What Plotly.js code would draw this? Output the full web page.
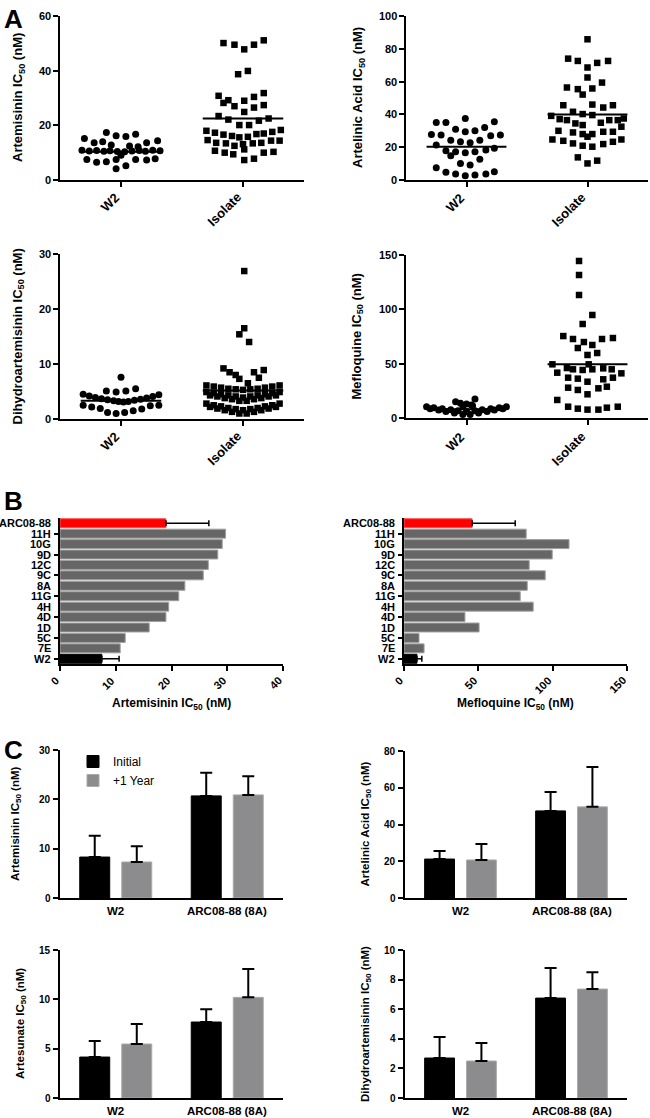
<!DOCTYPE html>
<html>
<head>
<meta charset="utf-8">
<script src="https://cdn.plot.ly/plotly-3.0.1.min.js"></script>
<style>
	body{margin:0;background:#fff;}
	#fig{width:650px;height:1118px;}
</style>
</head>
<body>
<div id="fig"></div>
<script>
// ---- panel A : scatter of IC50 values, W2 vs field isolates ----
var groups = ['W2', 'Isolate'];

var artW2 = [17.4,16.2,15.9,16.7,15.2,14.4,13.6,14.0,13.6,12.2,12.8,12.4,
	10.9,10.6,10.8,10.5,10.7,10.4,10.3,10.6,10.8,10.5,10.9,10.7,
	9.1, 7.5,6.5,6.7,7.5,7.5,7.3,7.8, 5.2,4.1];
var artW2Off = [-0.12,-0.04,0.04,0.12,-0.30,0.30,-0.22,-0.15,0.21,0.14,-0.08,0.07,
	-0.32,-0.26,-0.20,-0.14,-0.09,-0.03,0.03,0.09,0.15,0.20,0.26,0.32,
	0.0, -0.28,-0.20,-0.12,-0.04,0.12,0.21,0.28, 0.04,-0.04];
var artIso = [50.1,49.5,47.8,49.5,51.1, 38.7,39.9, 30.8,29.2,31.8,30.4,
	28.2,27.0,29.0,24.9,26.5,27.4, 23.4,22.1,22.5,21.7, 20.1,20.1,
	18.0,17.3,16.6,16.1,15.6,15.8,16.8,17.0,17.6,18.3,
	14.6,13.6,13.4,12.5,13.1,13.4,13.6,14.4,14.4,
	10.7,10.0,9.4,11.2,10.0,10.3, 7.3,7.8];
var artIsoOff = [-0.16,-0.07,0.01,0.09,0.17, -0.04,0.04, -0.20,-0.12,0.17,0.09,
	-0.16,-0.07,0.01,0.01,0.09,0.17, -0.20,-0.12,0.21,0.13, -0.03,0.05,
	-0.30,-0.23,-0.16,-0.09,-0.03,0.04,0.11,0.17,0.24,0.31,
	-0.29,-0.22,-0.14,-0.07,0.0,0.08,0.15,0.23,0.30,
	-0.23,-0.15,-0.08,0.01,0.17,0.25, 0.01,0.09];
var artMean = [10.3, 22.5];

var alaW2 = [35.1,35.1,37.5,35.5, 31.0,29.4,30.0,32.0, 27.8,27.4,27.0,27.4,
	24.3,23.3,22.7,24.3, 21.3,19.3, 17.8,17.2,16.6,17.2,18.3, 14.8,12.6,
	10.1,9.1, 7.5, 4.7,3.7,2.6,3.0,3.7,5.1];
var alaW2Off = [-0.25,-0.17,-0.01,0.23, -0.09,-0.01,0.07,0.15, -0.29,-0.21,0.20,0.28,
	-0.13,-0.05,0.03,0.11, -0.25,0.23, -0.17,-0.09,-0.01,0.07,0.16, -0.13,0.11,
	-0.05,0.03, -0.25, -0.17,-0.09,-0.01,0.07,0.16,0.23];
var alaIso = [85.8, 74.0,72.6,71.4,72.6, 68.6, 62.5, 56.4,55.4,52.1,55.8,59.4,
	45.6,41.6,46.0,44.2,45.6,
	39.1,37.1,36.5,34.5,40.2,39.6,34.9,36.5,36.5,37.5,
	30.0,29.0,33.5,28.0,28.0,29.4,29.4,32.5, 26.4,
	24.7,23.9,22.3,20.9,20.3,21.9,23.3,24.7, 13.8,11.8,10.1];
var alaIsoOff = [0.0, -0.16,-0.08,0.08,0.17, 0.0, 0.0, -0.17,-0.08,-0.04,0.04,0.12,
	-0.20,-0.12,0.04,0.13,0.21,
	-0.30,-0.23,-0.17,-0.10,-0.04,0.04,0.11,0.18,0.25,0.30,
	-0.24,-0.12,-0.04,-0.04,0.04,0.13,0.21,0.28, 0.0,
	-0.29,-0.20,-0.12,-0.04,0.04,0.13,0.21,0.28, -0.08,0.08,0.0];
var alaMean = [20.3, 40.0];

var dhaW2 = [7.6, 5.1,4.9,5.1,5.5,
	4.5,4.2,3.9,3.7,3.5,3.3,3.2,3.1,3.2,3.4,3.6,3.8,4.1,4.4,
	2.5,2.2,1.9,1.2,1.0,1.2,1.5,1.8,2.4,2.5];
var dhaW2Off = [0.0, -0.12,-0.04,0.04,0.12,
	-0.31,-0.26,-0.21,-0.16,-0.11,-0.06,-0.02,0.02,0.06,0.11,0.16,0.21,0.26,0.31,
	-0.31,-0.24,-0.17,-0.11,-0.04,0.03,0.10,0.17,0.24,0.31];
var dhaIso = [26.9, 16.5,15.4,14.0, 9.2,8.5,8.0,7.3,6.5,8.5,7.5,8.9,
	6.1,5.9,5.7,5.5,5.4,5.3,5.4,5.5,5.7,5.9,6.1,
	4.9,4.7,4.5,4.3,4.1,3.9,4.1,4.3,4.5,4.7,4.9,
	4.3,4.1,3.8,3.6,3.3,3.3,3.6,3.8,4.1,4.3,
	2.8,2.5,2.3,2.0,1.8,1.6,1.8,2.0,2.3,2.5,2.8,
	2.2,1.9,1.6,1.3,1.0,1.0,1.3,1.6,1.9,2.2];
var dhaIsoOff = [0.01, 0.01,-0.03,0.05, -0.16,-0.11,-0.06,-0.03,0.04,0.09,0.13,0.17,
	-0.30,-0.24,-0.18,-0.12,-0.06,0.0,0.06,0.12,0.18,0.24,0.30,
	-0.30,-0.24,-0.18,-0.12,-0.06,0.0,0.06,0.12,0.18,0.24,0.30,
	-0.27,-0.21,-0.15,-0.09,-0.03,0.03,0.09,0.15,0.21,0.27,
	-0.30,-0.24,-0.18,-0.12,-0.06,0.0,0.06,0.12,0.18,0.24,0.30,
	-0.27,-0.21,-0.15,-0.09,-0.03,0.03,0.09,0.15,0.21,0.27];
var dhaMean = [3.3, 5.2];

var mefW2 = [17.5,15.0,12.9,13.5,12.0,11.0,11.3,
	10.4,9.5,8.6,7.6,6.6,6.0,6.6,7.6,8.6,9.5,10.4,
	8.6,7.4,6.0,4.6,3.3,3.3,4.6,6.0,7.4,8.6];
var mefW2Off = [0.07,-0.09,0.0,-0.05,0.04,-0.03,0.05,
	-0.33,-0.27,-0.20,-0.13,-0.07,0.0,0.07,0.13,0.20,0.27,0.33,
	-0.30,-0.23,-0.17,-0.10,-0.03,0.03,0.10,0.17,0.23,0.30];
var mefIso = [144.5,131.6,113.2,94.8,86.5, 75.4,72.7,69.9,67.2,72.7,73.6,64.4,58.0,59.8,
	49.4,41.7,46.0,44.8,44.2,44.8,49.4,45.7,44.8,41.1,
	37.1,36.2,33.4,35.6,37.1,
	27.9,25.8,21.8,27.3,28.8,
	16.6, 10.4,8.6,7.7,7.7,9.5,10.4];
var mefIsoOff = [-0.07,-0.07,-0.07,0.04,-0.04, -0.20,-0.12,-0.03,0.04,0.12,0.21,-0.08,0.0,0.08,
	-0.29,-0.25,-0.17,-0.12,-0.04,0.04,0.01,0.13,0.20,0.28,
	-0.16,-0.08,0.0,0.13,0.21,
	-0.16,-0.08,0.0,0.09,0.16,
	-0.25, -0.16,-0.08,0.0,0.09,0.16,0.25];
var mefMean = [8.0, 49.5];

// ---- panel B : clones ----
var clones = ['ARC08-88','11H','10G','9D','12C','9C','8A','11G','4H','4D','1D','5C','7E','W2'];
var cloneArt = [19.0,29.7,29.1,28.3,26.6,25.7,22.4,21.3,19.5,19.0,16.0,11.7,10.8,7.5];
var cloneArtErr = [7.7, 3.1];   // ARC08-88, W2
var cloneMef = [45.8,82.2,111,99.7,84.2,95,82.9,78.2,86.9,41,50.5,10.1,13.5,8.7];
var cloneMefErr = [29.0, 3.3];
var artTicks = [0, 10, 20, 30, 40];
var mefTicks = [0, 50, 100, 150];

// ---- panel C : initial vs +1 year ----
var strains = ['W2', 'ARC08-88 (8A)'];
var cArtInit = [8.3, 20.7], cArtInitErr = [4.3, 4.7];
var cArtYear = [7.3, 20.9], cArtYearErr = [3.2, 3.8];
var cAlaInit = [21.2, 47.4], cAlaInitErr = [4.4, 10.3];
var cAlaYear = [20.7, 49.6], cAlaYearErr = [8.7, 21.7];
var cAtsInit = [4.15, 7.7], cAtsInitErr = [1.63, 1.3];
var cAtsYear = [5.47, 10.2], cAtsYearErr = [2.03, 2.87];
var cDhaInit = [2.7, 6.75], cDhaInitErr = [1.43, 2.03];
var cDhaYear = [2.5, 7.36], cDhaYearErr = [1.22, 1.14];

// y tick values of every panel, in subplot order 1..10 (5 and 6 are the clone lists)
var yTicks = [[0,20,40,60], [0,20,40,60,80,100], [0,10,20,30], [0,50,100,150], null, null,
	[0,10,20,30], [0,20,40,60,80], [0,5,10,15], [0,2,4,6,8,10]];
var yTitles = ['Artemisinin', 'Artelinic Acid', 'Dihydroartemisinin', 'Mefloquine', null, null,
	'Artemisinin', 'Artelinic Acid', 'Artesunate', 'Dihydroartemisinin'];

var font = 'Liberation Sans, Arial, Helvetica, sans-serif';
var grayB = 'rgb(102,102,102)';
var grayC = 'rgb(140,140,143)';

function px(a, b){ return [a/650, b/650]; }
function py(top, bot){ return [1 - bot/1118, 1 - top/1118]; }
function xid(n){ return n == 1 ? 'x' : 'x' + n; }
function yid(n){ return n == 1 ? 'y' : 'y' + n; }
function bfont(size){ return {family: font, size: size, color: 'black', weight: 'bold'}; }
function label(t, size, extra){
	var a = {text: '<b>' + t + '</b>', showarrow: false, font: bfont(size)};
	for(var k in extra) a[k] = extra[k];
	return a;
}

function baseAxis(extra){
	var ax = {
		showline: true, linecolor: 'black', linewidth: 2,
		ticks: 'outside', ticklen: 5, tickwidth: 2, tickcolor: 'black',
		showgrid: false, zeroline: false, fixedrange: true, showticklabels: false
	};
	for(var k in extra) ax[k] = extra[k];
	return ax;
}

// tick labels turned 45 degrees under an x axis whose line sits at axisPy
function slantLabels(n, vals, texts, axisPy, size){
	return vals.map(function(v, i){
		return label(texts[i], size, {xref: xid(n), x: v, yref: 'paper', y: 1 - (axisPy + 7)/1118,
			textangle: -45, xanchor: 'right', yanchor: 'top', xshift: 4});
	});
}

function leftLabels(n, vals, texts, size){
	return vals.map(function(v, i){
		return label(texts[i], size, {xref: xid(n) + ' domain', x: 0, xanchor: 'right', xshift: -7,
			yref: yid(n), y: v, yanchor: 'middle'});
	});
}

function underLabels(n, vals, texts, size){
	return vals.map(function(v, i){
		return label(texts[i], size, {xref: xid(n), x: v, yref: yid(n) + ' domain', y: 0,
			xanchor: 'center', yanchor: 'top', yshift: -5});
	});
}

function sideTitle(t, xPx, topPx, botPx, size){
	return label(t + ' IC<sub>50</sub> (nM)', size, {xref: 'paper', x: xPx/650, yref: 'paper',
		y: 1 - (topPx + botPx)/2/1118, textangle: -90, xanchor: 'center', yanchor: 'middle'});
}

function swarm(vals, offs, grp, sym, n){
	return {
		x: vals.map(function(v, k){ return grp + offs[k]; }),
		y: vals,
		mode: 'markers', type: 'scatter',
		marker: {symbol: sym, size: sym == 'circle' ? 7 : 6.5, color: 'black'},
		xaxis: xid(n), yaxis: yid(n),
		cliponaxis: false, showlegend: false, hoverinfo: 'y'
	};
}

function meanLine(m, grp, n){
	return {
		x: [grp - 0.33, grp + 0.33], y: [m, m],
		mode: 'lines', type: 'scatter',
		line: {color: 'black', width: 2},
		xaxis: xid(n), yaxis: yid(n),
		showlegend: false, hoverinfo: 'skip'
	};
}

function cloneBars(vals, errs, n){
	var errBar = function(e){
		return {type: 'data', symmetric: false, array: [e], arrayminus: [0], color: 'black', thickness: 1.5, width: 3};
	};
	var common = {type: 'bar', orientation: 'h', width: 0.86, xaxis: xid(n), yaxis: yid(n), showlegend: false};
	var red = Object.assign({}, common, {
		y: clones.slice(0, 1), x: vals.slice(0, 1),
		marker: {color: 'rgb(255,0,0)', line: {color: 'rgb(255,80,80)', width: 1}},
		error_x: errBar(errs[0])
	});
	var gray = Object.assign({}, common, {
		y: clones.slice(1, 13), x: vals.slice(1, 13),
		marker: {color: grayB, line: {color: 'rgb(160,160,160)', width: 1}}
	});
	var black = Object.assign({}, common, {
		y: clones.slice(13), x: vals.slice(13),
		marker: {color: 'black', line: {color: 'black', width: 1}},
		error_x: errBar(errs[1])
	});
	return [red, gray, black];
}

function yearBars(init, initErr, year, yearErr, n, legend){
	var errBar = function(e){
		return {type: 'data', symmetric: false, array: e, arrayminus: [0, 0], color: 'black', thickness: 2, width: 6};
	};
	return [{
		type: 'bar', name: 'Initial', x: [0, 1], y: init,
		offset: -0.323, width: 0.269,
		marker: {color: 'black', line: {color: 'black', width: 1}},
		error_y: errBar(initErr),
		xaxis: xid(n), yaxis: yid(n), showlegend: legend
	}, {
		type: 'bar', name: '+1 Year', x: [0, 1], y: year,
		offset: 0.054, width: 0.269,
		marker: {color: grayC, line: {color: 'rgb(170,170,172)', width: 1}},
		error_y: errBar(yearErr),
		xaxis: xid(n), yaxis: yid(n), showlegend: legend
	}];
}

function main(){
	var data = [];
	var sets = [
		[artW2, artW2Off, artIso, artIsoOff, artMean],
		[alaW2, alaW2Off, alaIso, alaIsoOff, alaMean],
		[dhaW2, dhaW2Off, dhaIso, dhaIsoOff, dhaMean],
		[mefW2, mefW2Off, mefIso, mefIsoOff, mefMean]
	];
	sets.forEach(function(s, i){
		var n = i + 1;
		data.push(swarm(s[0], s[1], 0, 'circle', n));
		data.push(swarm(s[2], s[3], 1, 'square', n));
		data.push(meanLine(s[4][0], 0, n));
		data.push(meanLine(s[4][1], 1, n));
	});
	data = data.concat(cloneBars(cloneArt, cloneArtErr, 5));
	data = data.concat(cloneBars(cloneMef, cloneMefErr, 6));
	data = data.concat(yearBars(cArtInit, cArtInitErr, cArtYear, cArtYearErr, 7, true));
	data = data.concat(yearBars(cAlaInit, cAlaInitErr, cAlaYear, cAlaYearErr, 8, false));
	data = data.concat(yearBars(cAtsInit, cAtsInitErr, cAtsYear, cAtsYearErr, 9, false));
	data = data.concat(yearBars(cDhaInit, cDhaInitErr, cDhaYear, cDhaYearErr, 10, false));

	var catX = function(){ return {range: [-0.5, 1.5], tickmode: 'array', tickvals: [0, 1]}; };
	var stX = function(){ return {range: [-0.5, 1.5], tickmode: 'array', tickvals: [0, 1], ticks: ''}; };
	var cloneY = function(){
		return {type: 'category', categoryorder: 'array', categoryarray: clones.slice().reverse(),
			range: [-0.5, 13.5], ticklen: 4};
	};

	// ---- all texts, written as bold annotations ----
	var notes = [];
	[1, 2, 3, 4].forEach(function(n){
		notes = notes.concat(slantLabels(n, [0, 1], groups, n < 3 ? 180 : 419, 13));
	});
	notes = notes.concat(slantLabels(5, artTicks, artTicks, 665, 11));
	notes = notes.concat(slantLabels(6, mefTicks, mefTicks, 665, 11));
	[7, 8, 9, 10].forEach(function(n){
		notes = notes.concat(underLabels(n, [0, 1], strains, 11.5));
	});
	yTicks.forEach(function(t, i){
		if(t) notes = notes.concat(leftLabels(i + 1, t, t, i < 4 ? 11 : 10));
	});
	[5, 6].forEach(function(n){
		notes = notes.concat(leftLabels(n, clones.map(function(c, i){ return clones.length - 1 - i; }), clones, 11));
	});
	var titleX = [18, 358, 18, 357, 0, 0, 16, 365, 21, 366];
	var titleBand = [[16, 180], [16, 180], [254, 419], [255, 418], null, null,
		[750, 898], [751, 898], [950, 1098], [950, 1098]];
	yTitles.forEach(function(t, i){
		if(t) notes.push(sideTitle(t, titleX[i], titleBand[i][0], titleBand[i][1], i < 4 ? 13 : 11.5));
	});
	notes.push(label('Artemisinin IC<sub>50</sub> (nM)', 12, {xref: 'paper', x: (60 + 283)/2/650,
		yref: 'paper', y: 1 - 704/1118, xanchor: 'center', yanchor: 'middle'}));
	notes.push(label('Mefloquine IC<sub>50</sub> (nM)', 12, {xref: 'paper', x: (404 + 627)/2/650,
		yref: 'paper', y: 1 - 704/1118, xanchor: 'center', yanchor: 'middle'}));
	[['A', 2], ['B', 484], ['C', 733]].forEach(function(l){
		notes.push(label(l[0], 26, {xref: 'paper', x: 2/650, yref: 'paper', y: 1 - l[1]/1118,
			xanchor: 'left', yanchor: 'top'}));
	});

	var layout = {
		width: 650, height: 1118,
		margin: {l: 0, r: 0, t: 0, b: 0},
		paper_bgcolor: 'white', plot_bgcolor: 'rgba(0,0,0,0)',
		font: {family: font, color: 'black'},
		barmode: 'overlay',
		showlegend: true,
		legend: {x: 73/650, y: 1 - 747/1118, xanchor: 'left', yanchor: 'top',
			font: {family: font, size: 12, color: 'black'}, bgcolor: 'rgba(0,0,0,0)', traceorder: 'normal'},

		xaxis: baseAxis(Object.assign({domain: px(60, 304), anchor: 'y'}, catX())),
		yaxis: baseAxis({domain: py(16, 180), anchor: 'x', range: [0, 60], dtick: 20}),
		xaxis2: baseAxis(Object.assign({domain: px(406, 648), anchor: 'y2'}, catX())),
		yaxis2: baseAxis({domain: py(16, 180), anchor: 'x2', range: [0, 100], dtick: 20}),
		xaxis3: baseAxis(Object.assign({domain: px(60, 304), anchor: 'y3'}, catX())),
		yaxis3: baseAxis({domain: py(254, 419), anchor: 'x3', range: [0, 30], dtick: 10}),
		xaxis4: baseAxis(Object.assign({domain: px(406, 648), anchor: 'y4'}, catX())),
		yaxis4: baseAxis({domain: py(255, 418), anchor: 'x4', range: [0, 150], dtick: 50}),

		xaxis5: baseAxis({domain: px(60, 283), anchor: 'y5', range: [0, 40], tickmode: 'array', tickvals: artTicks}),
		yaxis5: baseAxis(Object.assign({domain: py(518, 664), anchor: 'x5'}, cloneY())),
		xaxis6: baseAxis({domain: px(404, 627), anchor: 'y6', range: [0, 150], tickmode: 'array', tickvals: mefTicks}),
		yaxis6: baseAxis(Object.assign({domain: py(518, 664), anchor: 'x6'}, cloneY())),

		xaxis7: baseAxis(Object.assign({domain: px(60, 283), anchor: 'y7'}, stX())),
		yaxis7: baseAxis({domain: py(750, 898), anchor: 'x7', range: [0, 30], dtick: 10}),
		xaxis8: baseAxis(Object.assign({domain: px(405, 627), anchor: 'y8'}, stX())),
		yaxis8: baseAxis({domain: py(751, 898), anchor: 'x8', range: [0, 80], dtick: 20}),
		xaxis9: baseAxis(Object.assign({domain: px(60, 283), anchor: 'y9'}, stX())),
		yaxis9: baseAxis({domain: py(950, 1098), anchor: 'x9', range: [0, 15], dtick: 5}),
		xaxis10: baseAxis(Object.assign({domain: px(405, 627), anchor: 'y10'}, stX())),
		yaxis10: baseAxis({domain: py(950, 1098), anchor: 'x10', range: [0, 10], dtick: 2}),

		annotations: notes
	};

	Plotly.newPlot('fig', data, layout, {staticPlot: true, displayModeBar: false});
}

main();
</script>
</body>
</html>
